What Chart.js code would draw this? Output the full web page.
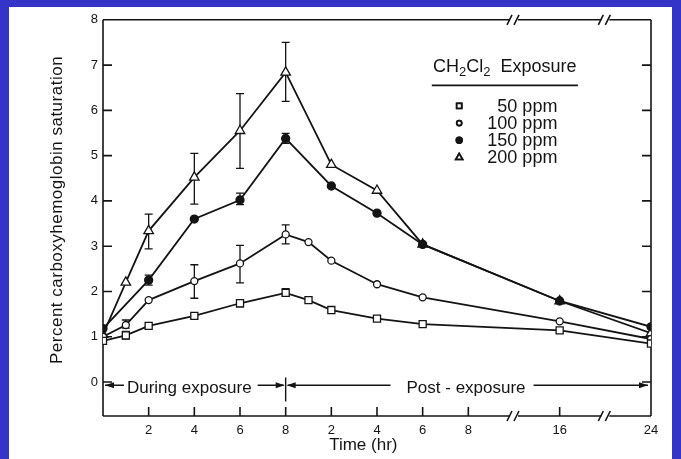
<!DOCTYPE html>
<html>
<head>
<meta charset="utf-8">
<script src="https://cdn.jsdelivr.net/npm/chart.js@4/dist/chart.umd.min.js"></script>
<style>
  html, body { margin: 0; padding: 0; background: #3434c8; overflow: hidden; }
  #frame { position: absolute; left: 9px; top: 7px; width: 663px; height: 452px; background: #fff; }
</style>
</head>
<body>
<div id="frame"><canvas id="chart" width="663" height="452"></canvas></div>
<script>
// time points: 6 during exposure, 6 after it
const expHours = [0, 1, 2, 4, 6, 8];
const postHours = [1, 2, 4, 6, 16, 24];

// bottom axis (broken after 8 h post exposure)
const xTickPos = [2, 4, 6, 8, 10, 12, 14, 16, 20, 24];
const xTickLabels = ['2', '4', '6', '8', '2', '4', '6', '8', '16', '24'];
const xBreaks = [18, 22];
const yTicks = [0, 1, 2, 3, 4, 5, 6, 7, 8];

const seriesNames = ['50 ppm', '100 ppm', '150 ppm', '200 ppm'];
const ppm50  = [0.91, 1.03, 1.24, 1.46, 1.74, 1.97, 1.81, 1.59, 1.40, 1.28, 1.14, 0.85];
const ppm100 = [1.00, 1.26, 1.81, 2.23, 2.62, 3.26, 3.09, 2.68, 2.16, 1.87, 1.34, 0.95];
const ppm150 = [1.18, null, 2.25, 3.60, 4.02, 5.38, null, 4.33, 3.73, 3.04, 1.79, 1.22];
const ppm200 = [1.05, 2.20, 3.34, 4.52, 5.55, 6.84, null, 4.80, 4.23, 3.04, 1.79, 1.08];

// error bar ends
const err50Lo  = [null, 0.95, null, null, 1.66, 1.90, null, null, null, null, null, null];
const err50Hi  = [null, 1.12, null, null, 1.82, 2.06, null, null, null, null, null, null];
const err100Lo = [null, 1.19, null, 1.85, 2.19, 3.05, null, null, null, null, null, null];
const err100Hi = [null, 1.37, null, 2.59, 3.02, 3.47, null, null, null, null, null, null];
const err150Lo = [null, null, 2.14, null, 3.92, 5.27, null, null, null, null, null, null];
const err150Hi = [null, null, 2.36, null, 4.17, 5.49, null, null, null, null, null, null];
const err200Lo = [null, null, 2.94, 3.93, 4.72, 6.20, null, null, null, null, null, null];
const err200Hi = [null, null, 3.71, 5.05, 6.37, 7.50, null, null, null, null, null, null];

// hours -> position on the broken time axis
function axisPos(post, h) {
  if (!post) return h;
  if (h <= 8) return 8 + h;
  return 20 + (h - 16) / 2;
}
const xs = expHours.map(h => axisPos(false, h)).concat(postHours.map(h => axisPos(true, h)));
const pts = vals => vals.map((v, i) => ({ x: xs[i], y: v }));

const ink = '#141414';
const font = '"Liberation Sans", Arial, sans-serif';

function ds(label, vals, lo, hi, style, radius, fill) {
  return {
    label, data: pts(vals), errLo: lo, errHi: hi,
    borderColor: ink, borderWidth: 1.8, showLine: true, spanGaps: true, tension: 0,
    pointStyle: style, pointRadius: radius, pointBorderWidth: 1.3,
    pointBorderColor: ink, pointBackgroundColor: fill
  };
}

const errorBars = {
  id: 'errorBars',
  beforeDatasetsDraw(chart) {
    const { ctx, scales: { x, y } } = chart;
    ctx.save();
    ctx.strokeStyle = ink;
    ctx.lineWidth = 1.3;
    chart.data.datasets.forEach(d => {
      d.errLo.forEach((lo, i) => {
        const hi = d.errHi[i];
        if (lo == null) return;
        const px = x.getPixelForValue(xs[i]);
        const y1 = y.getPixelForValue(lo), y2 = y.getPixelForValue(hi);
        ctx.beginPath();
        ctx.moveTo(px, y1); ctx.lineTo(px, y2);
        ctx.moveTo(px - 4, y1); ctx.lineTo(px + 4, y1);
        ctx.moveTo(px - 4, y2); ctx.lineTo(px + 4, y2);
        ctx.stroke();
      });
    });
    ctx.restore();
  }
};

function arrowHead(ctx, tipX, tipY, dir) {
  ctx.beginPath();
  ctx.moveTo(tipX, tipY);
  ctx.lineTo(tipX - dir * 9, tipY - 3);
  ctx.lineTo(tipX - dir * 9, tipY + 3);
  ctx.closePath();
  ctx.fill();
}

const frame = {
  id: 'frame',
  beforeDatasetsDraw(chart) {
    const { ctx, chartArea: a, scales: { x, y } } = chart;
    ctx.save();
    ctx.strokeStyle = ink;
    ctx.fillStyle = ink;
    ctx.lineWidth = 1.6;
    const br = xBreaks.map(v => x.getPixelForValue(v));
    const hline = yy => {
      let start = a.left;
      ctx.beginPath();
      br.forEach(b => { ctx.moveTo(start, yy); ctx.lineTo(b - 4, yy); start = b + 4; });
      ctx.moveTo(start, yy); ctx.lineTo(a.right, yy);
      ctx.stroke();
      br.forEach(b => {
        ctx.beginPath();
        ctx.moveTo(b - 7, yy + 5); ctx.lineTo(b - 2, yy - 5);
        ctx.moveTo(b + 0, yy + 5); ctx.lineTo(b + 5, yy - 5);
        ctx.stroke();
      });
    };
    hline(a.top);
    hline(a.bottom);
    ctx.beginPath();
    ctx.moveTo(a.left, a.top); ctx.lineTo(a.left, a.bottom);
    ctx.moveTo(a.right, a.top); ctx.lineTo(a.right, a.bottom);
    // inward tick marks
    yTicks.slice(0, -1).forEach(v => {
      const py = y.getPixelForValue(v);
      ctx.moveTo(a.left, py); ctx.lineTo(a.left + 9, py);
      ctx.moveTo(a.right, py); ctx.lineTo(a.right - 9, py);
    });
    xTickPos.slice(0, -1).forEach(v => {
      const px = x.getPixelForValue(v);
      ctx.moveTo(px, a.bottom); ctx.lineTo(px, a.bottom - 9);
    });
    ctx.stroke();

    // exposure period annotation
    ctx.lineWidth = 1.4;
    ctx.font = '17px ' + font;
    ctx.textBaseline = 'middle';
    ctx.textAlign = 'center';
    const ay = y.getPixelForValue(-0.07);
    const ty = y.getPixelForValue(-0.13);
    const p8 = x.getPixelForValue(8);
    const t1 = 'During exposure', t2 = 'Post - exposure';
    const c1 = x.getPixelForValue(3.78), c2 = x.getPixelForValue(15.9);
    const w1 = ctx.measureText(t1).width, w2 = ctx.measureText(t2).width;
    ctx.fillText(t1, c1, ty);
    ctx.fillText(t2, c2, ty);
    ctx.beginPath();
    ctx.moveTo(a.left + 2, ay); ctx.lineTo(c1 - w1 / 2 - 3, ay);
    ctx.moveTo(c1 + w1 / 2 + 6, ay); ctx.lineTo(p8 - 2, ay);
    ctx.moveTo(p8 + 2, ay); ctx.lineTo(c2 - w2 / 2 - 16, ay);
    ctx.moveTo(c2 + w2 / 2 + 8, ay); ctx.lineTo(a.right - 3, ay);
    ctx.moveTo(p8, y.getPixelForValue(0.1)); ctx.lineTo(p8, y.getPixelForValue(-0.43));
    ctx.stroke();
    arrowHead(ctx, a.left + 2, ay, -1);
    arrowHead(ctx, p8 - 1, ay, 1);
    arrowHead(ctx, p8 + 1, ay, -1);
    arrowHead(ctx, a.right - 3, ay, 1);

    // axis titles
    ctx.font = '17px ' + font;
    ctx.fillText('Time (hr)', x.getPixelForValue(11.4), a.bottom + 29);
    ctx.save();
    ctx.translate(48, y.getPixelForValue(3.8));
    ctx.rotate(-Math.PI / 2);
    ctx.font = '17px ' + font;
    ctx.letterSpacing = '0.5px';
    ctx.fillText('Percent carboxyhemoglobin saturation', 0, 0);
    ctx.restore();
    ctx.restore();
  },
  afterDraw(chart) {
    // legend
    const { ctx, scales: { x, y } } = chart;
    ctx.save();
    ctx.fillStyle = ink;
    ctx.strokeStyle = ink;
    ctx.textBaseline = 'alphabetic';
    ctx.textAlign = 'left';
    let lx = x.getPixelForValue(14.45);
    const base = y.getPixelForValue(6.85);
    const parts = [['CH', false], ['2', true], ['Cl', false], ['2', true], ['  Exposure', false]];
    parts.forEach(([s, sub]) => {
      ctx.font = (sub ? '13px ' : '18px ') + font;
      ctx.fillText(s, lx, base + (sub ? 4 : 0));
      lx += ctx.measureText(s).width;
    });
    ctx.lineWidth = 1.8;
    const ul = y.getPixelForValue(6.55);
    ctx.beginPath();
    ctx.moveTo(x.getPixelForValue(14.4), ul);
    ctx.lineTo(x.getPixelForValue(20.8), ul);
    ctx.stroke();
    ctx.font = '18px ' + font;
    ctx.textAlign = 'right';
    ctx.textBaseline = 'middle';
    const mx = x.getPixelForValue(15.6), tx = x.getPixelForValue(19.9);
    chart.data.datasets.forEach((d, i) => {
      const py = y.getPixelForValue(6.1 - i * 0.38);
      Chart.helpers.drawPoint(ctx, {
        pointStyle: d.pointStyle, radius: d.pointRadius * 0.7, borderWidth: 1.2
      }, mx, py);
      ctx.fillStyle = d.pointBackgroundColor;
      ctx.fill();
      ctx.stroke();
      ctx.fillStyle = ink;
      ctx.fillText(d.label, tx, py + 1);
    });
    ctx.restore();
  }
};

new Chart(document.getElementById('chart'), {
  type: 'scatter',
  data: {
    datasets: [
      ds(seriesNames[0], ppm50, err50Lo, err50Hi, 'rect', 5, '#fff'),
      ds(seriesNames[1], ppm100, err100Lo, err100Hi, 'circle', 3.5, '#fff'),
      ds(seriesNames[2], ppm150, err150Lo, err150Hi, 'circle', 4, ink),
      ds(seriesNames[3], ppm200, err200Lo, err200Hi, 'triangle', 5.5, '#fff')
    ]
  },
  options: {
    responsive: false,
    animation: false,
    layout: { padding: { top: 9, right: 21, left: 0, bottom: 0 } },
    plugins: { legend: { display: false }, tooltip: { enabled: false } },
    scales: {
      x: {
        type: 'linear', min: 0, max: 24,
        grid: { display: false, drawTicks: false },
        border: { display: false },
        afterBuildTicks: s => { s.ticks = xTickPos.map(v => ({ value: v })); },
        afterFit: s => { s.height = 43; },
        ticks: {
          autoSkip: false, maxRotation: 0, padding: 7, color: ink,
          font: { family: font, size: 13 },
          callback: v => xTickLabels[xTickPos.indexOf(v)]
        }
      },
      y: {
        type: 'linear', min: -0.75, max: 8,
        grid: { display: false, drawTicks: false },
        border: { display: false },
        afterBuildTicks: s => { s.ticks = yTicks.map(v => ({ value: v })); },
        afterFit: s => { s.width = 94; },
        ticks: {
          padding: 5, color: ink,
          font: { family: font, size: 13 },
          callback: v => String(v)
        }
      }
    }
  },
  plugins: [frame, errorBars]
});
</script>
</body>
</html>
